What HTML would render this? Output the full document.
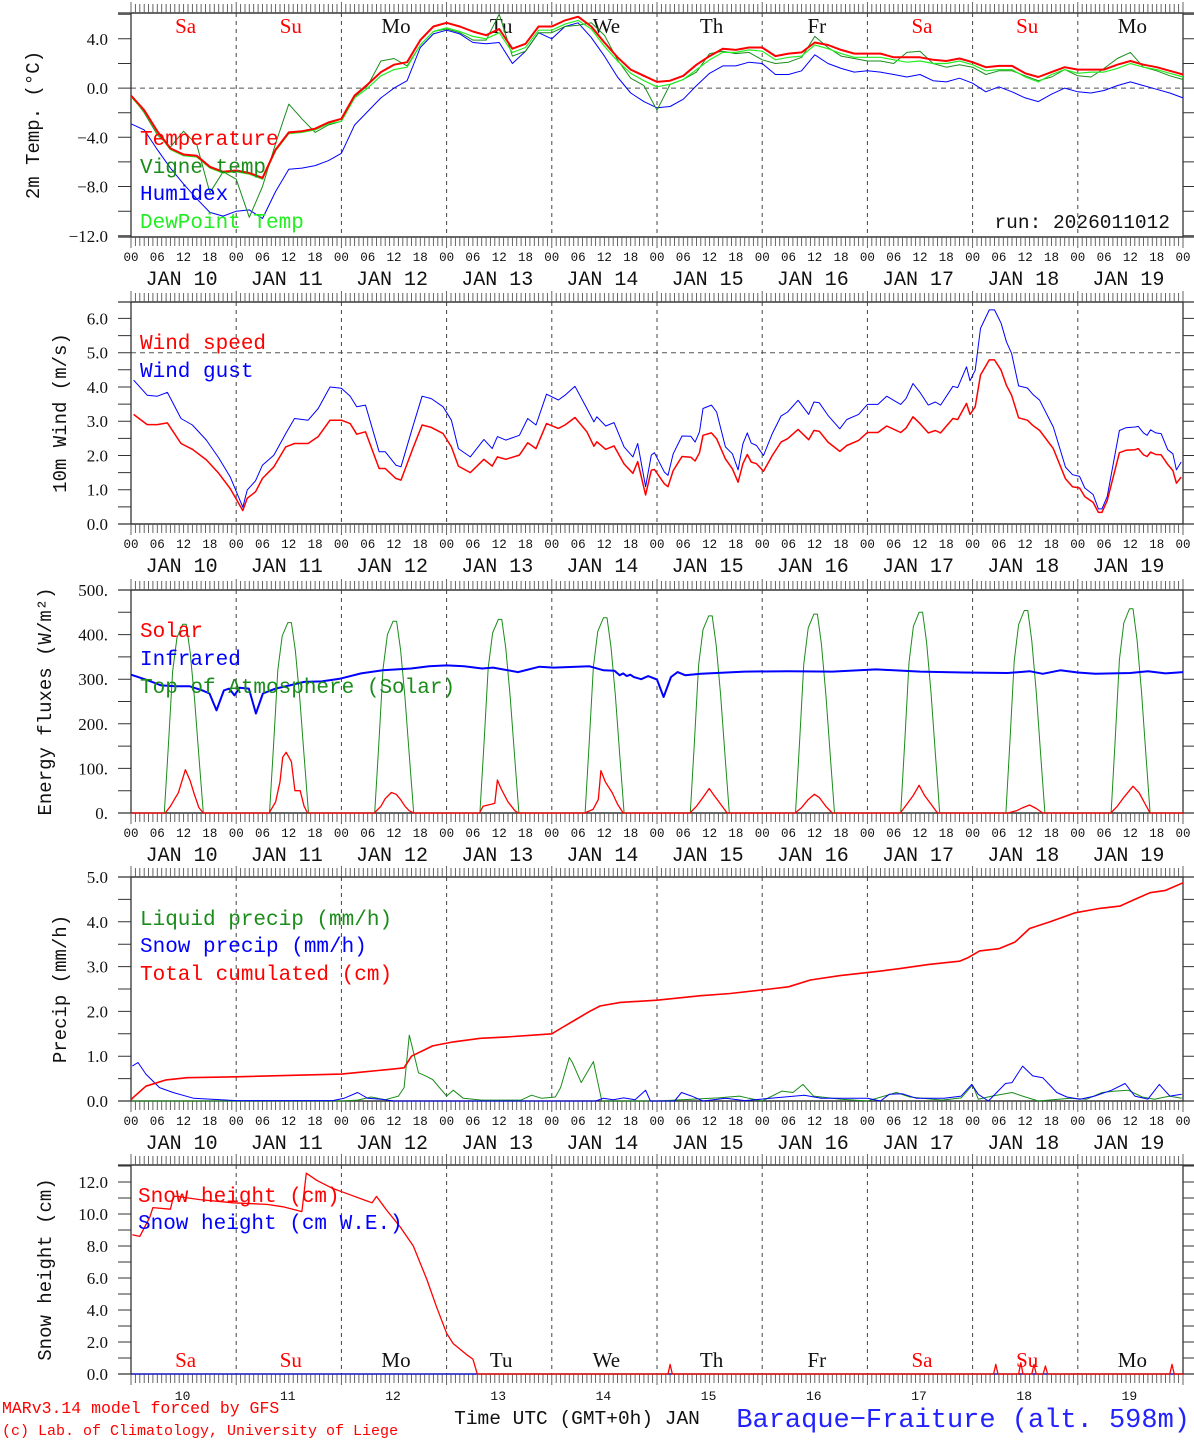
<!DOCTYPE html>
<html><head><meta charset="utf-8"><title>MAR forecast Baraque-Fraiture</title>
<style>
html,body{margin:0;padding:0;background:#fff;}
svg{display:block;}
text{font-family:"Liberation Mono","DejaVu Sans Mono",monospace;}
.tl{font-family:"Liberation Serif",serif;}
</style></head>
<body>
<svg id="chart" xmlns="http://www.w3.org/2000/svg" width="1194" height="1440" viewBox="0 0 1194 1440"></svg>
<script>
// ---------- DATA ----------
const dayNames = ["Sa","Su","Mo","Tu","We","Th","Fr","Sa","Su","Mo"];
const dayNums = ["10","11","12","13","14","15","16","17","18","19"];
const hourLabels = ["00","06","12","18"];
// temperature panel, 3-hourly from 00 UTC Jan 10
const tempStep = 3;
const temperature = [-0.6,-1.8,-3.5,-4.9,-5.4,-5.5,-6.4,-6.8,
 -6.7,-6.9,-7.3,-5.0,-3.6,-3.5,-3.3,-2.8,
 -2.5,-0.6,0.3,1.3,1.9,2.1,3.9,5.0,
 5.3,5.0,4.6,4.3,4.8,3.2,3.6,5.0,
 5.0,5.5,5.8,5.0,3.7,2.5,1.5,1.0,
 0.5,0.6,1.0,1.9,2.6,3.2,3.1,3.3,
 3.3,2.6,2.8,2.9,3.7,3.5,3.1,2.8,
 2.8,2.8,2.5,2.5,2.5,2.3,2.2,2.4,
 2.1,1.7,1.8,1.8,1.2,0.9,1.3,1.7,
 1.5,1.5,1.5,1.9,2.2,1.9,1.7,1.4,1.1];
const vigneTemp = [-0.6,-2.0,-3.8,-4.8,-3.5,-4.6,-8.5,-6.8,
 -7.4,-10.5,-8.0,-4.5,-1.3,-2.5,-3.6,-3.0,
 -2.7,-0.7,0.2,2.2,2.4,1.8,3.5,4.6,
 4.8,4.5,3.9,3.9,6.0,2.6,3.0,4.5,
 4.5,5.0,5.1,5.3,4.3,2.3,0.8,0.2,
 -1.8,0.3,0.7,1.3,2.8,3.0,2.8,2.9,
 2.3,2.0,2.1,2.5,4.2,3.3,2.6,2.4,
 2.2,2.2,2.0,2.9,3.0,2.0,1.7,1.9,
 1.7,1.1,1.4,1.4,1.0,0.6,0.9,1.5,
 1.0,0.9,1.6,2.4,2.9,1.7,1.4,1.0,0.7];
const humidex = [-2.9,-3.4,-5.0,-6.5,-7.8,-9.0,-10.1,-10.4,
 -10.0,-9.9,-10.6,-8.4,-6.6,-6.5,-6.3,-5.9,
 -5.3,-3.0,-1.9,-0.8,0.0,0.6,3.3,4.4,
 4.7,4.4,3.7,3.6,3.7,2.0,3.0,4.5,
 4.0,5.0,5.3,4.1,2.6,0.9,-0.4,-1.1,
 -1.6,-1.5,-0.9,0.2,1.2,1.8,1.8,2.1,
 2.0,1.1,1.1,1.4,2.7,2.0,1.6,1.3,
 1.4,1.3,1.1,0.9,1.1,0.6,0.5,0.8,
 0.4,-0.3,0.1,-0.3,-0.8,-1.1,-0.5,0.0,
 -0.3,-0.4,-0.2,0.2,0.5,0.2,-0.1,-0.4,-0.8];
const dewPoint = [-0.7,-1.9,-3.6,-5.0,-5.5,-5.6,-6.5,-6.9,
 -6.8,-7.0,-7.4,-5.1,-3.7,-3.6,-3.4,-2.9,
 -2.7,-0.8,0.0,1.0,1.5,1.7,3.5,4.6,
 4.9,4.6,4.2,4.0,4.5,2.9,3.3,4.7,
 4.7,5.2,5.5,4.8,3.4,2.2,1.2,0.6,
 0.1,0.3,0.7,1.5,2.3,2.9,2.9,3.1,
 3.0,2.3,2.5,2.6,3.5,3.2,2.8,2.5,
 2.5,2.5,2.3,2.1,2.2,2.0,2.0,2.2,
 1.9,1.4,1.5,1.5,0.9,0.5,1.1,1.5,
 1.2,1.3,1.3,1.6,2.0,1.7,1.5,1.2,0.9];
// wind
const windHours = [0.6,3.7,6,8.3,11.4,14,17.2,20,22.6,25.5,26.5,28.4,30,32.6,35.3,37.3,40.4,42.7,45.4,48,50,51.5,53.5,56.6,58,60.4,61.6,64.3,66.4,68.5,71.2,73.1,74.7,77.4,80.5,82.4,83.6,85.5,88.6,90.5,92.4,94.8,97.5,99,101.3,104,105.6,106.3,108.3,110.2,112.5,114.5,115.6,117.4,118.7,
 119.4,121.7,122.5,123.7,125.7,127.7,128.7,129.7,130.5,132.4,133.6,135.6,137.2,138.5,139.6,140.6,141.5,142.7,144.3,146.3,148.3,149.8,152.2,154.6,155.8,157,159,161.7,163.3,166,168,170.4,172.4,175.6,176.8,178.4,180,181.9,183.5,184.7,187.5,188.6,190.6,191.4,192.6,193.8,195.8,197,198.5,199.7,200.9,202.5,204.5,205.7,207.3,210.4,213.2,214.8,216.4,217.6,219.5,220.7,221.5,222.7,225.5,227,229.1,229.8,231,231.8,232.6,233.8,235,236.5,237.7,238.5,239.6];
const windSpeed = [3.2,2.9,2.9,2.95,2.35,2.18,1.87,1.48,1.04,0.39,0.75,0.94,1.33,1.67,2.25,2.35,2.35,2.55,3.03,3.03,2.93,2.62,2.69,1.62,1.62,1.33,1.28,2.2,2.89,2.82,2.64,2.25,1.69,1.5,1.89,1.69,1.96,1.89,2.01,2.37,2.2,2.93,2.79,2.89,3.11,2.69,2.27,2.4,2.18,2.28,1.75,1.48,1.82,0.85,1.57,
 1.59,1.17,1.09,1.56,1.97,1.95,1.84,2.08,2.59,2.66,2.49,1.9,1.61,1.22,1.76,2.03,1.81,1.76,1.54,2.0,2.39,2.49,2.76,2.46,2.73,2.71,2.39,2.12,2.29,2.44,2.67,2.67,2.86,2.67,2.8,3.13,2.93,2.66,2.73,2.66,3.08,3.05,3.52,3.2,3.42,4.35,4.79,4.79,4.49,4.05,3.76,3.1,3.03,2.88,2.73,2.2,1.32,1.09,1.05,0.8,0.63,0.34,0.34,0.68,2.08,2.15,2.17,2.2,2.02,1.97,2.1,2.03,2.02,1.74,1.56,1.19,1.37];
const windGust = [4.2,3.76,3.73,3.84,3.08,2.89,2.45,1.93,1.38,0.49,0.99,1.26,1.72,2.01,2.64,3.08,3.03,3.37,4.0,3.96,3.73,3.42,3.47,2.11,2.11,1.72,1.67,2.84,3.73,3.66,3.42,3.03,2.2,1.96,2.47,2.2,2.55,2.45,2.59,3.08,2.89,3.79,3.62,3.76,4.02,3.37,2.98,3.13,2.86,2.96,2.25,1.96,2.35,1.09,2.01,
 2.08,1.51,1.42,2.05,2.57,2.56,2.39,2.69,3.37,3.47,3.27,2.25,2.05,1.58,2.34,2.66,2.36,2.29,2.0,2.64,3.15,3.27,3.61,3.2,3.56,3.54,3.17,2.78,3.05,3.2,3.49,3.49,3.73,3.49,3.66,4.1,3.84,3.47,3.56,3.47,4.02,3.98,4.59,4.18,4.49,5.71,6.25,6.25,5.86,5.32,4.98,4.03,3.97,3.79,3.61,2.83,1.66,1.44,1.39,1.05,0.86,0.44,0.44,0.8,2.73,2.81,2.83,2.85,2.66,2.59,2.75,2.66,2.64,2.17,2.05,1.58,1.81];
// energy fluxes
const solarHours = [0,7.8,9,10,10.8,12.4,13.5,14.5,15.5,16.5,
 31.5,33,34,34.6,35.4,36.6,37.4,38.6,39.5,40.3,
 55.5,57,58,59.4,60.5,61.5,62.5,63.5,64.5,
 79.5,80.3,82.3,83,83.6,84.4,86,87.6,88.4,
 103.5,105.4,106.6,107.2,108.2,109.8,111,112.3,
 127.5,129,130.5,131.9,133,134.5,136,
 151.5,153,154.5,155.9,157,158.5,160,
 175.5,177,178.5,179.8,181,182.5,184,
 200,202,203.5,205,206.5,208,
 223.5,225,226.5,228.6,230,231.5,232.5,240];
const solarVals = [0,0,15,32,45,97,72,40,12,0,
 0,25,70,125,136,115,50,50,15,0,
 0,15,32,46,42,30,15,5,0,
 0,15,20,22,74,55,25,5,0,
 0,8,30,95,70,45,20,0,
 0,15,35,55,40,20,0,
 0,12,30,42,35,15,0,
 0,20,40,62,40,20,0,
 0,5,12,18,10,0,
 0,15,35,60,45,18,0,0];
const irHours = [0,3.7,6.9,10.2,13.4,16.3,17.9,19.5,21.2,22.4,23.6,24.8,26.9,28.5,30.1,33,36.2,39.5,43.5,47.6,52.5,57.4,63.9,68,72,76,80.1,82.6,88.3,93.2,96.4,104.6,107.8,110.3,111.5,112.3,113.1,113.9,114.7,116.4,118,120,121.5,123.2,124.7,126.4,130,140,150,160,170,180,190,200,205,208,212,216,220,228,232,236,240];
const irVals = [310,298,286,284,284,275,268,230,275,279,264,281,279,223,268,279,286,294,295,301,313,320,324,329,331,329,324,326,316,328,326,329,320,319,309,313,307,310,305,300,307,299,260,305,316,309,312,317,318,317,322,317,315,314,318,312,320,315,312,314,318,313,316];
const toaPeak = [423,427,430,434,438,442,446,450,454,458];
const toaShapeHour = [7.6,8.5,9.5,10.5,11.8,12.6,13.5,14.5,15.5,16.5];
const toaShapeFrac = [0,0.35,0.75,0.93,1.0,1.0,0.85,0.6,0.3,0];
// precipitation
const cumHours = [0,0.3,3.4,8,12.8,24,48,53,59.5,62.3,64,68.8,73.5,79.7,85.9,92,96,98.4,101.5,104.6,107,111.6,120,130,136.7,145.8,150,155,161.8,171,175,182,189,191,193.6,198,201.7,205,209.7,215.4,221,225.6,229,232.5,236,240];
const cumVals = [0.02,0.06,0.33,0.47,0.52,0.54,0.6,0.65,0.71,0.74,1.0,1.23,1.32,1.4,1.43,1.47,1.5,1.64,1.82,2.0,2.12,2.2,2.25,2.35,2.4,2.5,2.55,2.7,2.8,2.9,2.95,3.05,3.12,3.2,3.35,3.4,3.55,3.85,4.0,4.2,4.3,4.35,4.5,4.65,4.7,4.87];
const liqHours = [0,48,51.7,54.8,58,61,62.3,63.5,65.6,67.2,68.8,72,73.5,75.8,80,89,91.4,93.7,96.8,98,100,100.7,102.7,105.5,107.4,120,134,138.8,141,144,148.5,151,153.3,155.7,162,168,174.6,177.7,185,189.4,192,193.3,196.4,201,203.4,207,214.3,218,221.6,224.4,227.5,230.7,233.5,236.9,239.7];
const liqVals = [0,0,0.02,0.09,0.03,0.11,0.3,1.47,0.63,0.56,0.48,0.11,0.24,0.06,0.02,0.02,0.13,0.06,0.09,0.3,0.97,0.86,0.41,0.88,0,0,0.07,0.11,0.06,0,0.22,0.19,0.37,0.11,0.04,0,0.19,0.09,0.02,0.07,0.36,0.04,0.11,0.19,0.11,0,0.06,0.04,0.19,0.22,0.24,0.09,0.04,0.11,0.06];
const snowPrHours = [0.3,1.6,3.4,6.5,9.6,14.3,24,46,48.6,51.7,54,57,60,106,107.7,110,112.4,115,117.4,118.5,124,125.6,127.9,130.5,135.7,140,153.6,157.5,162,168,171,173,176,179.2,185.5,189.4,191.8,193.3,195.6,199.5,201,203.4,205.7,208,211.2,213.5,216.5,219.8,223.7,226.8,229,232,234.6,237,239.7];
const snowPrVals = [0.78,0.86,0.6,0.3,0.19,0.06,0.01,0.01,0.06,0.19,0.06,0.04,0,0,0.06,0.03,0.07,0.03,0.24,0,0,0.19,0.11,0,0.06,0.01,0.13,0.06,0.06,0.06,0,0.15,0.16,0.06,0.06,0.11,0.37,0.15,0,0.39,0.41,0.78,0.56,0.52,0.19,0.09,0.04,0.11,0.24,0.39,0.11,0.04,0.37,0.11,0.15];
// snow height
const snowHours = [0.3,2,4.3,5,9,9.7,10.5,15.7,23.3,31,34.7,39,40,42.4,46,50,53,55,56,58.3,61.4,64.4,67.5,69.7,72,73.5,76.6,78,79,122.5,123,123.5,196.8,197.3,197.8,202.5,203,203.5,205.5,206,206.5,208.1,208.6,209.1,237,237.5,238,240];
const snowVals = [8.7,8.6,9.8,10.4,10.3,11.1,11.1,10.9,10.7,10.6,10.45,10.15,12.55,12.1,11.6,11.2,10.9,10.7,11.1,10.25,9.2,8.0,5.9,4.2,2.55,1.9,1.2,0.93,0,0,0.6,0,0,0.6,0,0,0.7,0,0,0.6,0,0,0.5,0,0,0.6,0,0];
const snowWE = [0,0];
const snowWEHours = [0,240];

// ---------- DRAWING ----------
const NS = "http://www.w3.org/2000/svg";
const svg = document.getElementById("chart");
const X0 = 131, X1 = 1183;
function xS(h){ return X0 + h*(X1-X0)/240; }
function mk(tag, attrs, parent){
  const e = document.createElementNS(NS, tag);
  for (const k in attrs) e.setAttribute(k, attrs[k]);
  (parent||svg).appendChild(e);
  return e;
}
function txt(s, x, y, size, color, anchor, name, parent, cls){
  const t = mk("text", {x:x, y:y, "font-size":size, fill:color, "text-anchor":anchor||"start"}, parent);
  if (cls) t.setAttribute("class", cls);
  
  
  t.textContent = s;
  return t;
}
const panels = [
  {id:"temp", top:13, bottom:237, min:-12.1, max:6.1, labelVals:[-12,-8,-4,0,4], labelFmt:v=>(v<0?"\u2212":"")+Math.abs(v).toFixed(1), tickStep:2, tickFrom:-12, tickTo:6, title:"2m Temp. (\u00B0C)", titleX:33, dashY:0, days:true, daysY:33, hours:true},
  {id:"wind", top:302, bottom:524, min:0, max:6.48, labelVals:[0,1,2,3,4,5,6], labelFmt:v=>v.toFixed(1), tickStep:0.5, tickFrom:0, tickTo:6.5, title:"10m Wind (m/s)", titleX:60, dashY:5, hours:true},
  {id:"energy", top:590, bottom:813, min:0, max:500, labelVals:[0,100,200,300,400,500], labelFmt:v=>v+".", tickStep:50, tickFrom:0, tickTo:500, title:"Energy fluxes (W/m\u00B2)", titleX:45, hours:true},
  {id:"precip", top:877, bottom:1101, min:0, max:5, labelVals:[0,1,2,3,4,5], labelFmt:v=>v.toFixed(1), tickStep:0.5, tickFrom:0, tickTo:5, title:"Precip (mm/h)", titleX:60, hours:true},
  {id:"snow", top:1165, bottom:1374, min:0, max:13.06, labelVals:[0,2,4,6,8,10,12], labelFmt:v=>v.toFixed(1), tickStep:1, tickFrom:0, tickTo:13, title:"Snow height (cm)", titleX:45, days:true, daysY:1367, hours:false}
];
function yS(p, v){ return p.bottom - (v-p.min)*(p.bottom-p.top)/(p.max-p.min); }

panels.forEach(p=>{
  const g = mk("g", {});
  
  
  for (let d=1; d<10; d++){
    const l = mk("line", {x1:xS(d*24), x2:xS(d*24), y1:p.top, y2:p.bottom, stroke:"#444", "stroke-width":1, "stroke-dasharray":"4,4"}, g);
    
    
  }
  if (p.dashY !== undefined){
    const l = mk("line", {x1:X0, x2:X1, y1:yS(p,p.dashY), y2:yS(p,p.dashY), stroke:"#555", "stroke-width":1, "stroke-dasharray":"5,4"}, g);
    
    
  }
  const fr = mk("rect", {x:X0, y:p.top, width:X1-X0, height:p.bottom-p.top, fill:"none", stroke:"#333", "stroke-width":1.3}, g);
  
  
  mk("line", {x1:118, x2:X1+11, y1:p.top, y2:p.top, stroke:"#333", "stroke-width":1.3}, g);
  mk("line", {x1:118, x2:X1+11, y1:p.bottom, y2:p.bottom, stroke:"#333", "stroke-width":1.3}, g);
  let dTicks = "";
  for (let h=0; h<=240; h++){
    const x = xS(h).toFixed(1);
    const len = (h%24===0) ? 11 : 9;
    dTicks += `M${x} ${p.top} v${-len} M${x} ${p.bottom} v${len} `;
  }
  const tk = mk("path", {d:dTicks, stroke:"#555", "stroke-width":0.9, fill:"none"}, g);
  
  
  let yt = "";
  for (let v=p.tickFrom; v<=p.tickTo+1e-9; v+=p.tickStep){
    const y = yS(p,v);
    if (y < p.top-0.5) continue;
    yt += `M118 ${y.toFixed(1)} H${X0} M${X1} ${y.toFixed(1)} H${X1+11} `;
  }
  const ytp = mk("path", {d:yt, stroke:"#333", "stroke-width":1, fill:"none"}, g);
  
  
  p.labelVals.forEach(v=>{
    txt(p.labelFmt(v), 108, yS(p,v)+6, 17, "#111", "end", "y-tick-label", g, "tl");
  });
  const yc = (p.top+p.bottom)/2;
  const t = txt(p.title, p.titleX, yc, 19, "#111", "middle", "y-axis-title", g);
  t.setAttribute("transform", `rotate(-90 ${p.titleX} ${yc})`);
  t.setAttribute("dy", "6");
  if (p.hours){
    for (let d=0; d<10; d++){
      hourLabels.forEach((hl,i)=>{
        txt(hl, xS(d*24+i*6), p.bottom+24, 12.5, "#111", "middle", "hour-label", g);
      });
      txt("JAN " + dayNums[d], xS(d*24+12)-2, p.bottom+48, 20, "#111", "middle", "date-label", g);
    }
    txt("00", xS(240), p.bottom+24, 12.5, "#111", "middle", "hour-label", g);
  }
  if (p.days){
    for (let d=0; d<10; d++){
      const c = (dayNames[d]==="Sa"||dayNames[d]==="Su") ? "#ff0000" : "#111";
      txt(dayNames[d], xS(d*24+12)+2, p.daysY, 21, c, "middle", "weekday-label", g, "tl");
    }
  }
});

function series(p, hours, vals, color, width, name){
  let d = "";
  for (let i=0; i<vals.length; i++){
    d += (i?"L":"M") + xS(hours[i]).toFixed(1) + " " + yS(p, vals[i]).toFixed(1) + " ";
  }
  const path = mk("path", {d:d, fill:"none", stroke:color, "stroke-width":width, "stroke-linejoin":"round"});
  
  
  return path;
}
const P = {}; panels.forEach(p=>P[p.id]=p);
const tHours = temperature.map((_,i)=>i*tempStep);

series(P.temp, tHours, humidex, "#0000ff", 1, "humidex-line");
series(P.temp, tHours, vigneTemp, "#1a8c1a", 1, "vigne-temp-line");
series(P.temp, tHours, dewPoint, "#22ee22", 1.2, "dewpoint-line");
series(P.temp, tHours, temperature, "#ff0000", 2, "temperature-line");
[["Temperature","#ff0000",145],["Vigne temp","#1a8c1a",173],["Humidex","#0000ff",200],["DewPoint Temp","#22ee22",228]].forEach(l=>{
  txt(l[0], 140, l[2], 21, l[1], "start", "legend-entry");
});
txt("run: 2026011012", 1170, 228, 19.5, "#111", "end", "run-label");

series(P.wind, windHours, windGust, "#0000ff", 1, "wind-gust-line");
series(P.wind, windHours, windSpeed, "#ff0000", 1.5, "wind-speed-line");
txt("Wind speed", 140, 349, 21, "#ff0000", "start", "legend-entry");
txt("Wind gust", 140, 377, 21, "#0000ff", "start", "legend-entry");

const toaHours = [], toaVals = [];
toaHours.push(0); toaVals.push(0);
toaPeak.forEach((pk,d)=>{
  toaShapeHour.forEach((h,i)=>{ toaHours.push(d*24+h); toaVals.push(pk*toaShapeFrac[i]); });
});
toaHours.push(240); toaVals.push(0);
series(P.energy, toaHours, toaVals, "#1a8c1a", 1, "toa-solar-line");
series(P.energy, solarHours, solarVals, "#ff0000", 1.3, "solar-line");
series(P.energy, irHours, irVals, "#0000ff", 2, "infrared-line");
txt("Solar", 140, 637, 21, "#ff0000", "start", "legend-entry");
txt("Infrared", 140, 665, 21, "#0000ff", "start", "legend-entry");
txt("Top of Atmosphere (Solar)", 140, 693, 21, "#1a8c1a", "start", "legend-entry");

series(P.precip, liqHours, liqVals, "#1a8c1a", 1, "liquid-precip-line");
series(P.precip, snowPrHours, snowPrVals, "#0000ff", 1, "snow-precip-line");
series(P.precip, cumHours, cumVals, "#ff0000", 1.6, "cumulated-precip-line");
txt("Liquid precip (mm/h)", 140, 925, 21, "#1a8c1a", "start", "legend-entry");
txt("Snow precip (mm/h)", 140, 952, 21, "#0000ff", "start", "legend-entry");
txt("Total cumulated (cm)", 140, 980, 21, "#ff0000", "start", "legend-entry");

series(P.snow, snowWEHours, snowWE, "#0000ff", 1, "snow-we-line");
series(P.snow, snowHours, snowVals, "#ff0000", 1.3, "snow-height-line");
txt("Snow height (cm)", 138, 1202, 21, "#ff0000", "start", "legend-entry");
txt("Snow height (cm W.E.)", 138, 1229, 21, "#0000ff", "start", "legend-entry");
for (let d=0; d<10; d++){
  txt(dayNums[d], xS(d*24+12)-1, 1400, 13, "#111", "middle", "day-number-label");
}
txt("Time UTC (GMT+0h) JAN", 577, 1424, 19.5, "#111", "middle", "x-axis-title");
txt("Baraque\u2212Fraiture (alt. 598m)", 1190, 1427, 27, "#2222ff", "end", "station-title");
txt("MARv3.14 model forced by GFS", 2, 1413, 16.5, "#ff0000", "start", "model-credit");
txt("(c) Lab. of Climatology, University of Liege", 2, 1435, 15, "#ff0000", "start", "lab-credit");
</script>
</body></html>
